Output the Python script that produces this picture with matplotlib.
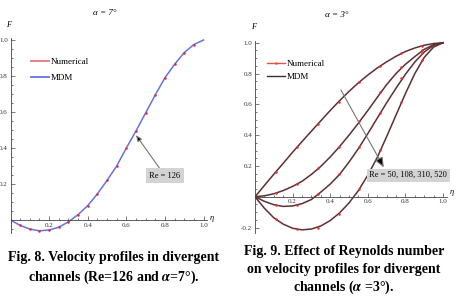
import numpy as np
import matplotlib
matplotlib.use('Agg')
import matplotlib.pyplot as plt
from matplotlib.ticker import MultipleLocator, FixedLocator, FixedFormatter

plt.rcParams['font.family'] = ['Liberation Serif', 'DejaVu Serif']
plt.rcParams['mathtext.fontset'] = 'stix'

# ---- data ----
# Fig. 8, alpha = 7 deg, Re = 126
eta_a = [0.0, 0.05, 0.10, 0.15, 0.20, 0.25, 0.30, 0.35, 0.40, 0.45, 0.50,
         0.55, 0.60, 0.65, 0.70, 0.75, 0.80, 0.85, 0.90, 0.95, 1.0]
f_a = [0.0, -0.03, -0.05, -0.06, -0.055, -0.04, -0.01, 0.03, 0.08, 0.145, 0.22,
       0.30, 0.40, 0.495, 0.595, 0.695, 0.79, 0.865, 0.93, 0.975, 1.0]

# Fig. 9, alpha = 3 deg, MDM lines
eta_b = eta_a
f_re50 = [0.0, 0.073, 0.146, 0.217, 0.289, 0.358, 0.426, 0.493, 0.56, 0.624, 0.684,
          0.74, 0.79, 0.836, 0.876, 0.912, 0.943, 0.966, 0.984, 0.995, 1.0]
f_re108 = [0.0, 0.006, 0.019, 0.04, 0.067, 0.10, 0.145, 0.197, 0.258, 0.326, 0.40,
           0.478, 0.56, 0.645, 0.728, 0.80, 0.86, 0.91, 0.957, 0.988, 1.0]
f_re310 = [0.0, -0.03, -0.052, -0.063, -0.06, -0.045, -0.018, 0.03, 0.082, 0.145, 0.225,
           0.313, 0.41, 0.51, 0.61, 0.705, 0.795, 0.875, 0.94, 0.983, 1.0]
f_re520 = [0.0, -0.075, -0.137, -0.178, -0.205, -0.215, -0.21, -0.19, -0.155, -0.105, -0.04,
           0.04, 0.14, 0.255, 0.39, 0.53, 0.67, 0.80, 0.905, 0.972, 1.0]

# Fig. 9 numerical points
eta_num = [1/9, 2/9, 3/9, 4/9, 5/9, 6/9, 7/9, 8/9]
n_re50 = [0.162, 0.32, 0.47, 0.617, 0.747, 0.85, 0.935, 0.98]
n_re108 = [0.022, 0.08, 0.184, 0.325, 0.49, 0.678, 0.84, 0.953]
n_re310 = [-0.054, -0.056, 0.016, 0.145, 0.325, 0.545, 0.77, 0.935]
n_re520 = [-0.147, -0.212, -0.2, -0.112, 0.05, 0.305, 0.615, 0.888]

W, H = 459, 296
fig = plt.figure(figsize=(W/100, H/100), dpi=100)


def add_ax(x0, x1, ytop, ybot):
    return fig.add_axes([x0/W, 1 - ybot/H, (x1 - x0)/W, (ybot - ytop)/H])


def style(ax, ymin, ylabels):
    ax.set_xlim(0, 1.02)
    ax.set_ylim(ymin, 1.01)
    for s in ['top', 'right']:
        ax.spines[s].set_visible(False)
    ax.spines['bottom'].set_position(('data', 0))
    ax.spines['left'].set_position(('data', 0))
    for s in ['bottom', 'left']:
        ax.spines[s].set_linewidth(0.6)
        ax.spines[s].set_color('#444444')
    ax.xaxis.set_major_locator(FixedLocator([0.2, 0.4, 0.6, 0.8, 1.0]))
    ax.xaxis.set_major_formatter(FixedFormatter(['0.2', '0.4', '0.6', '0.8', '1.0']))
    ax.xaxis.set_minor_locator(MultipleLocator(0.05))
    ax.yaxis.set_major_locator(FixedLocator(ylabels))
    ax.yaxis.set_major_formatter(FixedFormatter(['%.1f' % v for v in ylabels]))
    ax.yaxis.set_minor_locator(MultipleLocator(0.05))
    ax.tick_params(which='both', direction='in', colors='#444444', labelcolor='#333333',
                   labelsize=5, pad=2, width=0.5)
    ax.tick_params(which='major', length=3)
    ax.tick_params(which='minor', length=1.5)
    ax.patch.set_alpha(0)


# ---- left panel ----
ax1 = add_ax(10.5, 207.4, 38.2, 233)
style(ax1, -0.072, [0.2, 0.4, 0.6, 0.8, 1.0])
ax1.plot(eta_a, f_a, color='#6673e0', lw=1.1, label='MDM')
ax1.plot(eta_a[1:-1], f_a[1:-1], 'o', color='#e02a2a', ms=1.8, mew=0)
ax1.annotate('Re = 126', xy=(0.65, 0.472), xytext=(0.799, 0.247), fontsize=6,
             ha='center', va='center',
             bbox=dict(boxstyle='square,pad=0.4', fc='#d3d3d3', ec='none'),
             arrowprops=dict(arrowstyle='-|>,head_length=0.6,head_width=0.25',
                             fc='black', ec='#777777', lw=0.8, shrinkA=0, shrinkB=0))
h1 = [plt.Line2D([], [], color='#e07878', lw=1.3),
      plt.Line2D([], [], color='#6673e0', lw=1.3)]
fig.legend(h1, ['Numerical', 'MDM'], loc='upper left', bbox_to_anchor=(26/W, 1 - 53/H),
           frameon=False, fontsize=6.5, handlelength=2.0, handletextpad=0.2,
           labelspacing=0.9, borderpad=0)
fig.text(105/W, 1 - 13/H, 'α = 7°', fontsize=6.5, style='italic', ha='center', va='center')
fig.text(9/W, 1 - 25/H, 'F', fontsize=6, style='italic', ha='center', va='center')
fig.text(212/W, 1 - 218/H, 'η', fontsize=6, style='italic', ha='center', va='center')

# ---- right panel ----
ax2 = add_ax(255, 446.8, 41.2, 232.9)
style(ax2, -0.235, [-0.2, 0.2, 0.4, 0.6, 0.8, 1.0])
for fl, fn in [(f_re50, n_re50), (f_re108, n_re108), (f_re310, n_re310), (f_re520, n_re520)]:
    ax2.plot(eta_b, fl, color='#5e2f33', lw=1.1)
    ax2.plot(eta_num, fn, 'o', color='#ee2a2a', ms=1.8, mew=0)
ax2.annotate('', xy=(0.685, 0.19), xytext=(0.457, 0.693),
             arrowprops=dict(arrowstyle='-|>,head_length=0.6,head_width=0.25',
                             fc='black', ec='#777777', lw=0.8, shrinkA=0, shrinkB=0))
ax2.text(0.814, 0.141, 'Re = 50, 108, 310, 520', fontsize=6, ha='center', va='center',
         bbox=dict(boxstyle='square,pad=0.3', fc='#d3d3d3', ec='none'))
h2 = [plt.Line2D([], [], color='#e85040', lw=1.0, marker='o', ms=1.8, mew=0),
      plt.Line2D([], [], color='#333333', lw=1.0)]
fig.legend(h2, ['Numerical', 'MDM'], loc='upper left', bbox_to_anchor=(262/W, 1 - 55/H),
           frameon=False, fontsize=6.5, handlelength=2.0, handletextpad=0.2,
           labelspacing=0.5, borderpad=0)
fig.text(337/W, 1 - 15/H, 'α = 3°', fontsize=6.5, style='italic', ha='center', va='center')
fig.text(254/W, 1 - 27/H, 'F', fontsize=6, style='italic', ha='center', va='center')
fig.text(452/W, 1 - 192/H, 'η', fontsize=6, style='italic', ha='center', va='center')

# ---- captions ----
cap = dict(fontsize=10, fontweight='bold', ha='center', va='center')
fig.text(114/W, 1 - 258/H, 'Fig. 8. Velocity profiles in divergent', **cap)
fig.text(114/W, 1 - 277/H, 'channels (Re=126 and $\\boldsymbol{\\alpha}$=7°).', **cap)
fig.text(344/W, 1 - 251/H, 'Fig. 9. Effect of Reynolds number', **cap)
fig.text(344/W, 1 - 269/H, 'on velocity profiles for divergent', **cap)
fig.text(344/W, 1 - 287/H, 'channels ($\\boldsymbol{\\alpha}$ =3°).', **cap)

fig.savefig('out.png', dpi=100)
